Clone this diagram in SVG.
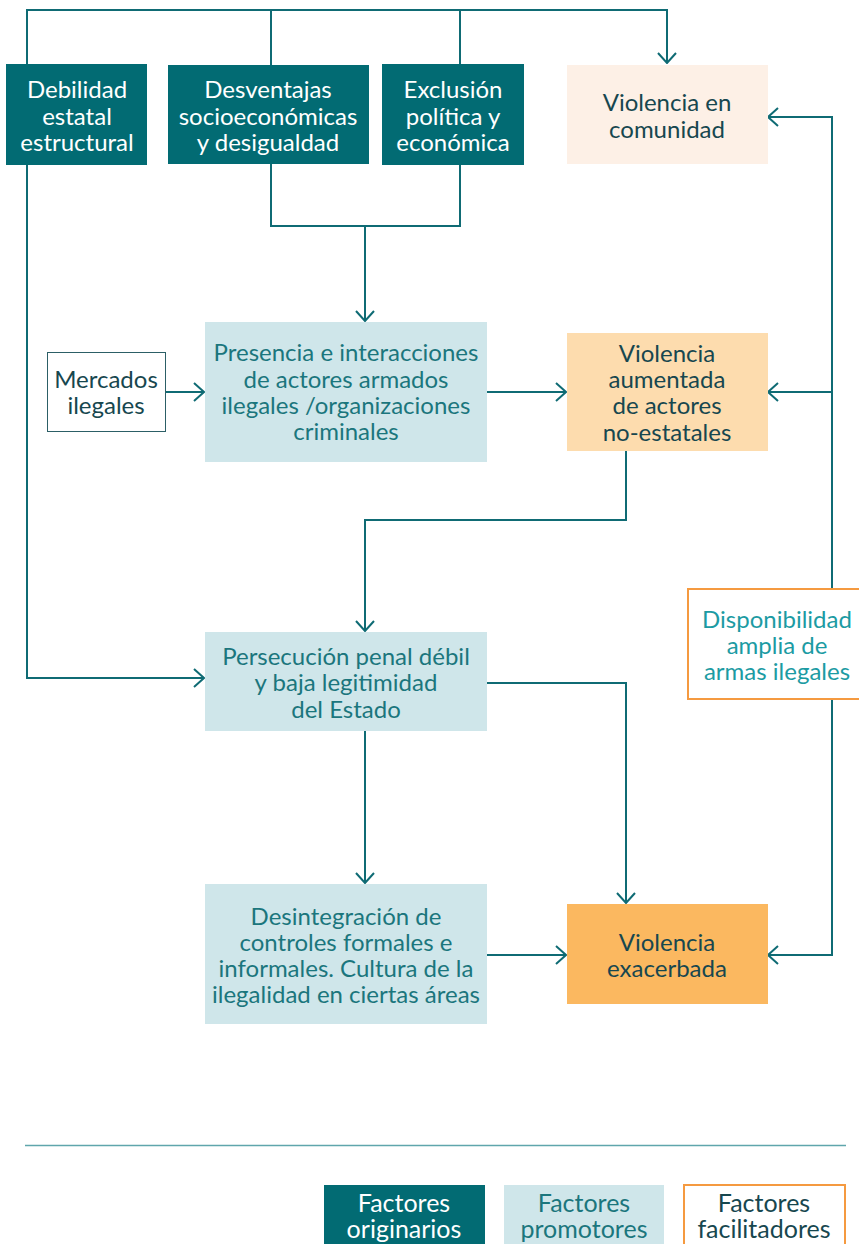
<svg xmlns="http://www.w3.org/2000/svg" width="859" height="1244" viewBox="0 0 859 1244">
<defs>
<style>
text{font-family:Lato,"Noto Sans","Liberation Sans",sans-serif;font-size:24px;text-anchor:middle}
.lg{font-size:25px}
.w{fill:#ffffff}
.d{fill:#17474f}
.t{fill:#1b767d}
.l{fill:#1c9ba3}
.orig{fill:#026b73}
.prom{fill:#cfe6ea}
.conn path{fill:none;stroke:#0f6b74;stroke-width:2}
</style>
<marker id="ah" viewBox="0 0 12 20" refX="11" refY="10" markerWidth="12" markerHeight="20" markerUnits="userSpaceOnUse" orient="auto">
<path d="M1,1 L11,10 L1,19" fill="none" stroke="#0f6b74" stroke-width="2"/>
</marker>
</defs>
<rect width="859" height="1244" fill="#ffffff"/>
<g class="conn">
<path d="M27,64 V10 H667 V63" marker-end="url(#ah)"/>
<path d="M271,65 V10"/>
<path d="M460,64 V10"/>
<path d="M27,165 V678 H204" marker-end="url(#ah)"/>
<path d="M271,164 V226 H460 V165"/>
<path d="M365,226 V321" marker-end="url(#ah)"/>
<path d="M166,392 H204" marker-end="url(#ah)"/>
<path d="M487,392 H566" marker-end="url(#ah)"/>
<path d="M832,588 V117 H768" marker-end="url(#ah)"/>
<path d="M832,392 H768" marker-end="url(#ah)"/>
<path d="M832,700 V955 H768" marker-end="url(#ah)"/>
<path d="M626,451 V520 H365 V631" marker-end="url(#ah)"/>
<path d="M487,683 H626 V903" marker-end="url(#ah)"/>
<path d="M365,731 V883" marker-end="url(#ah)"/>
<path d="M487,955 H566" marker-end="url(#ah)"/>
</g>
<g id="debilidad">
<rect x="6" y="64" width="141" height="101" class="orig"/>
<text class="w"><tspan x="77" y="98">Debilidad</tspan><tspan x="77" y="124.5">estatal</tspan><tspan x="77" y="151">estructural</tspan></text>
</g>
<g id="desventajas">
<rect x="168" y="65" width="201" height="99" class="orig"/>
<text class="w"><tspan x="268" y="98">Desventajas</tspan><tspan x="268" y="124.5">socioeconómicas</tspan><tspan x="268" y="151">y desigualdad</tspan></text>
</g>
<g id="exclusion">
<rect x="382" y="64" width="142" height="101" class="orig"/>
<text class="w"><tspan x="453" y="98">Exclusión</tspan><tspan x="453" y="124.5">política y</tspan><tspan x="453" y="151">económica</tspan></text>
</g>
<g id="violencia-comunidad">
<rect x="567" y="65" width="201" height="99" fill="#fdf0e6"/>
<text class="d"><tspan x="667" y="111">Violencia en</tspan><tspan x="667" y="138">comunidad</tspan></text>
</g>
<g id="mercados">
<rect x="47.5" y="352.5" width="118" height="79" fill="#ffffff" stroke="#2c5f66" stroke-width="1"/>
<text class="d"><tspan x="106" y="388">Mercados</tspan><tspan x="106" y="414">ilegales</tspan></text>
</g>
<g id="presencia">
<rect x="205" y="322" width="282" height="140" class="prom"/>
<text class="t"><tspan x="346" y="361">Presencia e interacciones</tspan><tspan x="346" y="388">de actores armados</tspan><tspan x="346" y="414">ilegales /organizaciones</tspan><tspan x="346" y="440">criminales</tspan></text>
</g>
<g id="violencia-aumentada">
<rect x="567" y="333" width="201" height="118" fill="#fddcae"/>
<text class="d"><tspan x="667" y="362">Violencia</tspan><tspan x="667" y="388">aumentada</tspan><tspan x="667" y="414">de actores</tspan><tspan x="667" y="441">no-estatales</tspan></text>
</g>
<g id="disponibilidad">
<rect x="688" y="589" width="172" height="110" fill="#ffffff" stroke="#f59a40" stroke-width="2"/>
<text class="l"><tspan x="777" y="628">Disponibilidad</tspan><tspan x="777" y="654">amplia de</tspan><tspan x="777" y="680">armas ilegales</tspan></text>
</g>
<g id="persecucion">
<rect x="205" y="632" width="282" height="99" class="prom"/>
<text class="t"><tspan x="346" y="665">Persecución penal débil</tspan><tspan x="346" y="691">y baja legitimidad</tspan><tspan x="346" y="718">del Estado</tspan></text>
</g>
<g id="desintegracion">
<rect x="205" y="884" width="282" height="140" class="prom"/>
<text class="t"><tspan x="346" y="925">Desintegración de</tspan><tspan x="346" y="951">controles formales e</tspan><tspan x="346" y="977">informales. Cultura de la</tspan><tspan x="346" y="1003">ilegalidad en ciertas áreas</tspan></text>
</g>
<g id="violencia-exacerbada">
<rect x="567" y="904" width="201" height="100" fill="#fbb860"/>
<text class="d"><tspan x="667" y="951">Violencia</tspan><tspan x="667" y="977">exacerbada</tspan></text>
</g>
<g id="legend">
<line x1="25" y1="1145.5" x2="846" y2="1145.5" stroke="#5fa6ac" stroke-width="1.5"/>
<rect x="324" y="1185" width="161" height="62" class="orig"/>
<text class="w lg"><tspan x="404" y="1212">Factores</tspan><tspan x="404" y="1238">originarios</tspan></text>
<rect x="504" y="1185" width="160" height="62" class="prom"/>
<text class="t lg"><tspan x="584" y="1212">Factores</tspan><tspan x="584" y="1238">promotores</tspan></text>
<rect x="684" y="1185" width="161" height="62" fill="#ffffff" stroke="#f59a40" stroke-width="2"/>
<text class="d lg"><tspan x="764" y="1212">Factores</tspan><tspan x="764" y="1238">facilitadores</tspan></text>
</g>
</svg>
